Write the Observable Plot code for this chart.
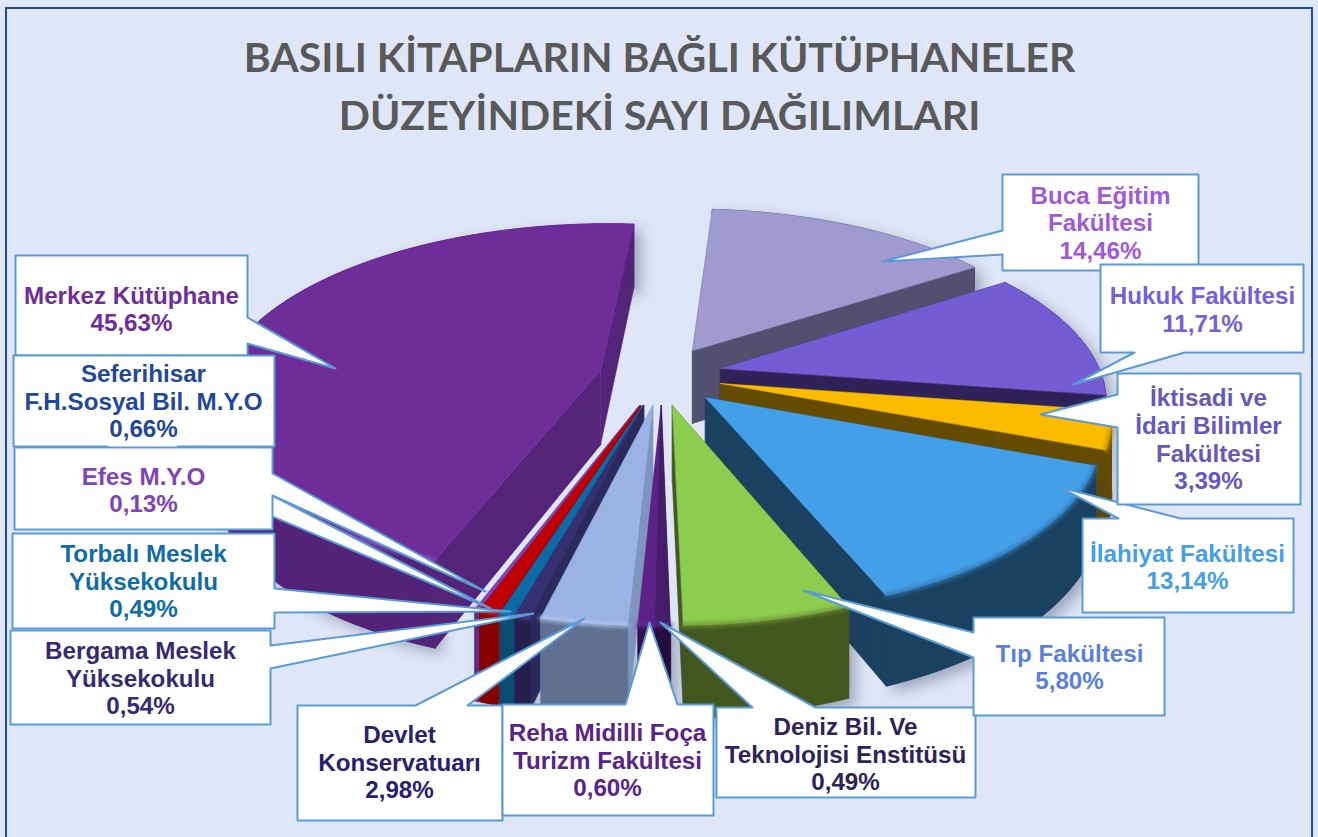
<!DOCTYPE html>
<html><head><meta charset="utf-8">
<script src="https://cdn.jsdelivr.net/npm/d3@7"></script>
<script src="https://cdn.jsdelivr.net/npm/@observablehq/plot@0.6"></script>
<style>
html,body{margin:0;padding:0;background:#dfe6f7;overflow:hidden}
.shadowed{filter:drop-shadow(7px 6px 7px rgba(50,60,95,.38))}
.seam{filter:blur(2px)}
</style></head><body><div id="chart"></div>
<script>
// DATA (pie order, clockwise from the top)
const names = ["Buca Eğitim Fakültesi","Hukuk Fakültesi","İktisadi ve İdari Bilimler Fakültesi","İlahiyat Fakültesi","Tıp Fakültesi","Deniz Bil. Ve Teknolojisi Enstitüsü","Reha Midilli Foça Turizm Fakültesi","Devlet Konservatuarı","Bergama Meslek Yüksekokulu","Torbalı Meslek Yüksekokulu","Seferihisar F.H.Sosyal Bil. M.Y.O","Efes M.Y.O","Merkez Kütüphane"];
const values = [14.46,11.71,3.39,13.14,5.80,0.49,0.60,2.98,0.54,0.49,0.66,0.13,45.63];
const titleLines = ["BASILI KİTAPLARIN BAĞLI KÜTÜPHANELER","DÜZEYİNDEKİ SAYI DAĞILIMLARI"];
const labelTexts = ["Buca Eğitim\nFakültesi\n14,46%","Hukuk Fakültesi\n11,71%","İktisadi ve\nİdari Bilimler\nFakültesi\n3,39%","İlahiyat Fakültesi\n13,14%","Tıp Fakültesi\n5,80%","Deniz Bil. Ve\nTeknolojisi Enstitüsü\n0,49%","Reha Midilli Foça\nTurizm Fakültesi\n0,60%","Devlet\nKonservatuarı\n2,98%","Bergama Meslek\nYüksekokulu\n0,54%","Torbalı Meslek\nYüksekokulu\n0,49%","Seferihisar\nF.H.Sosyal Bil. M.Y.O\n0,66%","Efes M.Y.O\n0,13%","Merkez Kütüphane\n45,63%"];

// STYLE
const topColors  = ["#a09ad0","#735cd4","#fbbc00","#43a0e8","#8ccc4e","#451d68","#5c2287","#9ab2e4","#363072","#0e69a7","#be0000","#8144b8","#6f2d9a"];
const rimColors  = ["#524f6f","#2f2259","#654b00","#1a415f","#42581f","#240d3d","#34114f","#5f7090","#241f4b","#0a4b72","#870000","#5a2d85","#522378"];
const sideColors = ["#524f6f","#2f2259","#654b00","#1a415f","#44581f","#3a1858","#451d68","#7f95c0","#2b2a5c","#0a5a8c","#a00000","#6a36a0","#542478"];
const seamColors = ["#a09ad0","#735cd4","#b88c00","#2f78b4","#6d8f35","#5c2a86","#6a2a98","#b3c8f5","#4a4490","#1a7cb8","#e02020","#9a58d0","#9a5cc8"];
const labelColors= ["#a05ad6","#7460d8","#6558bf","#43a0e8","#5b7fde","#2f2259","#5a2389","#2a2070","#362a72","#0e6ca8","#22489b","#8144b8","#6f2d9a"];
// exploded offset of each slice, in pie radii
const explode = [[.0995,-.3175],[.172,-.21],[.169,-.123],[.1285,-.044],[.043,0],[.015,0],[.015,0],[-.007,0],[-.03,0],[-.033,0],[-.038,0],[-.041,0],[-.145,-.198]];
// perspective of the pie
const view = {cx:655, cy:405, A:392, B:182.6, p:.17, h:77};
const project = (X,Y,Z=0) => { const s = 1/(1-view.p*Y); return {x:view.cx+view.A*X*s, y:view.cy+view.B*Y*s+view.h*Z*s}; };

const arcs = d3.pie().sort(null).startAngle(4.5*Math.PI/180).endAngle(364.5*Math.PI/180)(values);
const pts = (i, a, Z) => { const [ex,ey]=explode[i]; return project(ex+Math.sin(a), ey-Math.cos(a), Z); };
const apex = (i, Z) => project(explode[i][0], explode[i][1], Z);
const arcPts = (i, Z) => { const {startAngle:a0,endAngle:a1}=arcs[i]; const n=Math.max(2,Math.ceil((a1-a0)/0.02)); return d3.range(n+1).map(k=>pts(i,a0+(a1-a0)*k/n,Z)); };

function sliceMarks(i){
  const a=arcs[i], m=[];
  const poly=(d,fill,cls)=>Plot.line(d,{x:"x",y:"y",fill,stroke:fill,strokeWidth:.5,curve:"linear-closed",className:cls});
  const rim=[...arcPts(i,0),...arcPts(i,1).reverse()];
  m.push(poly(rim,rimColors[i],"shadowed"));
  for(const t of [a.startAngle,a.endAngle])
    m.push(poly([apex(i,0),pts(i,t,0),pts(i,t,1),apex(i,1)],sideColors[i]));
  m.push(poly(rim,rimColors[i]));
  m.push(poly([apex(i,0),...arcPts(i,0)],topColors[i]));
  // soft seam along the front part of the rim
  const front=arcPts(i,0).filter(p=>p.y>view.cy+20);
  if(front.length>1 && i!==12) m.push(Plot.line(front,{x:"x",y:"y",stroke:seamColors[i],strokeWidth:4,className:"seam"}));
  if(i===12) m.push(Plot.line(front.filter(p=>p.x<480),{x:"x",y:"y",stroke:seamColors[i],strokeWidth:3,className:"seam"}));
  return m;
}

// LAYOUT of the callouts: box [x0,y0,x1,y1], wedge [base, tip, base] given clockwise, side, label centre
const callouts = [
 {i:12,box:[15,255,247,355],side:"r",w:[[247,317],[335,368],[247,343]],c:[131,308]},
 {i:10,box:[13,355,274,446],side:"b",w:[[177,446],[490,608],[106,446]],c:[143,400.5]},
 {i:11,box:[14,447,272,529],side:"r",w:[[272,473],[485,591],[272,495]],c:[143,489]},
 {i:9, box:[12,533,274,628],side:"r",w:[[274,588],[510,611],[274,612]],c:[143,580.5]},
 {i:8, box:[10,630,270,724],side:"r",w:[[270,645],[533,613],[270,668]],c:[140,677.5]},
 {i:7, box:[297,705,502,820],side:"t",w:[[415,705],[584,618],[467,705]],c:[399,761.5]},
 {i:6, box:[502,704,713,815],side:"t",w:[[625,704],[649,622],[677,704]],c:[607,759.5]},
 {i:5, box:[716,707,975,797],side:"t",w:[[752,707],[660,622],[815,707]],c:[845,753.5]},
 {i:4, box:[973,617,1164,715],side:"l",w:[[973,657],[803,590],[973,632]],c:[1069,666]},
 {i:3, box:[1082,518,1293,612],side:"t",w:[[1118,518],[1060,487],[1180,518]],c:[1187,566]},
 {i:0, box:[1002,174,1198,270],side:"l",w:[[1002,254],[882,261],[1002,230]],c:[1100,222]},
 {i:1, box:[1100,264,1303,352],side:"b",w:[[1184,352],[1073,384],[1134,352]],c:[1202,308.5]},
 {i:2, box:[1117,373,1300,504],side:"l",w:[[1117,427],[1040,414],[1117,394]],c:[1208,438.5]}
];
function calloutPolygon({box:[x0,y0,x1,y1],side,w}){
  const p=(a)=>a.map(([x,y])=>({x,y}));
  return [{x:x0,y:y0},...(side==="t"?p(w):[]),{x:x1,y:y0},...(side==="r"?p(w):[]),{x:x1,y:y1},...(side==="b"?p(w):[]),{x:x0,y:y1},...(side==="l"?p(w):[])];
}

const drawOrder=[0,1,2,3,4,12,11,10,9,8,7,6,5];
const titleRows=titleLines.map((t,k)=>({t,x:659,y:[58,116][k]}));
const marks=[
  Plot.rect([{x1:6,x2:1312,y1:8,y2:860}],{x1:"x1",x2:"x2",y1:"y1",y2:"y2",fill:"#dfe6f7",stroke:"#1f4a9c",strokeWidth:2}),
  Plot.text(titleRows,{x:"x",y:"y",text:"t",fontFamily:"Lato",fontWeight:700,fontSize:41,fill:"#595959"}),
  ...drawOrder.flatMap(sliceMarks),
  ...callouts.map(c=>Plot.line(calloutPolygon(c),{x:"x",y:"y",fill:"white",stroke:"#5b9bd5",strokeWidth:2,curve:"linear-closed"})),
  Plot.text(callouts,{x:d=>d.c[0],y:d=>d.c[1],text:d=>labelTexts[d.i],fill:d=>labelColors[d.i],fontFamily:"Liberation Sans",fontWeight:700,fontSize:24.2,lineHeight:1.14})
];
const chart=Plot.plot({width:1318,height:837,margin:0,style:{background:"#dfe6f7",display:"block"},
  x:{domain:[0,1318],range:[0,1318],axis:null},
  y:{domain:[0,837],range:[0,837],axis:null},
  color:{type:"identity"},
  marks});
document.getElementById("chart").appendChild(chart);
</script></body></html>
